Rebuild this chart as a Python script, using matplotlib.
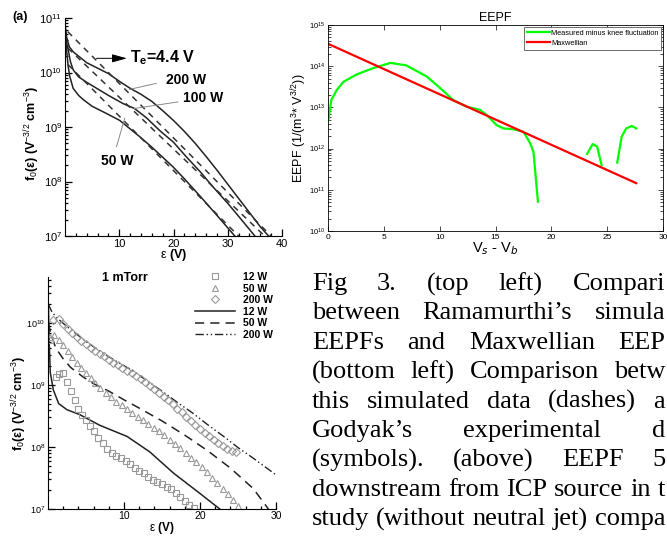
import matplotlib
matplotlib.use("Agg")
import matplotlib.pyplot as plt
import numpy as np
from matplotlib.lines import Line2D

plt.rcParams["font.family"] = ["Liberation Sans", "DejaVu Sans"]
plt.rcParams["mathtext.fontset"] = "custom"
plt.rcParams["mathtext.rm"] = "Liberation Sans"
plt.rcParams["mathtext.bf"] = "Liberation Sans:bold"

#################################################
#   Data (y values stored as log10 exponents)   #
#################################################

# (a) Ramamurthi simulated EEPFs, solid
a_x_200 = [0.0, 0.3, 0.8, 1.5, 2.5, 4.0, 6.0, 8.0, 10.0, 12.0, 14.0, 16.0, 18.0,
           20.0, 22.0, 24.0, 26.0, 28.0, 30.0, 32.0, 34.0, 36.0, 37.7]
a_y_200 = [10.9, 10.65, 10.47, 10.38, 10.3, 10.18, 10.08, 9.98, 9.84, 9.71, 9.6,
           9.47, 9.3, 9.12, 8.92, 8.7, 8.46, 8.21, 7.95, 7.69, 7.43, 7.17, 6.98]
a_x_100 = [0.0, 0.3, 0.6, 1.0, 1.5, 2.5, 4.0, 6.0, 8.0, 10.7, 12.8, 15.0, 17.4,
           20.0, 22.3, 25.0, 27.2, 30.0, 32.1, 35.0]
a_y_100 = [10.85, 10.55, 10.41, 10.2, 10.05, 9.92, 9.82, 9.70, 9.58, 9.43, 9.34,
           9.17, 8.94, 8.72, 8.46, 8.17, 7.91, 7.60, 7.35, 7.0]
a_x_50 = [0.0, 0.3, 0.6, 0.9, 1.5, 2.5, 3.4, 5.0, 7.6, 10.1, 13.8, 16.0, 19.9,
          22.0, 25.0, 28.0, 31.3]
a_y_50 = [10.8, 10.4, 10.1, 9.92, 9.71, 9.58, 9.50, 9.38, 9.25, 9.12, 8.82, 8.63,
          8.27, 8.05, 7.72, 7.38, 7.0]
# (a) Maxwellian fits, dashed (end points)
a_max_x = [[0.5, 38.3], [0.5, 36.8], [0.5, 32.0]]
a_max_y = [[10.75, 6.97], [10.45, 7.0], [10.15, 7.0]]

# top right: measured EEPF (3 pieces) and Maxwellian
m_x1 = [0.03, 0.3, 0.78, 1.37, 2.57, 4.0, 5.6, 7.0, 8.84, 10.0, 11.2, 12.4, 13.6,
        14.2, 15.1, 15.7, 16.6, 17.5, 18.1, 18.4, 18.8]
m_y1 = [12.69, 13.18, 13.42, 13.62, 13.80, 13.95, 14.08, 14.02, 13.75, 13.48,
        13.18, 13.02, 12.94, 12.82, 12.57, 12.49, 12.47, 12.41, 12.13, 11.92, 10.71]
m_x2 = [23.2, 23.7, 24.1, 24.5]
m_y2 = [11.87, 12.11, 12.05, 11.60]
m_x3 = [25.9, 26.3, 26.7, 27.2, 27.6]
m_y3 = [11.66, 12.29, 12.49, 12.55, 12.49]
mx_x = [0.0, 27.6]
mx_y = [3.5e14, 1.45e11]

# bottom left: 1 mTorr, simulation lines
b_x_12 = [0.05, 0.15, 0.3, 0.7, 1.4, 2.5, 4.2, 6.8, 10.4, 13.4, 16.5, 20.0, 22.6]
b_y_12 = [10.3, 9.7, 9.2, 8.92, 8.70, 8.60, 8.52, 8.35, 8.17, 7.92, 7.58, 7.25, 7.0]
b_x_50 = [0.05, 0.3, 1.0, 2.0, 3.0, 4.6, 6.0, 8.0, 10.0, 12.1, 15.0, 18.0, 21.0,
          24.0, 27.0, 29.0]
b_y_50 = [10.0, 9.86, 9.6, 9.42, 9.28, 9.13, 9.02, 8.9, 8.76, 8.62, 8.42, 8.19,
          7.94, 7.66, 7.33, 7.0]
b_x_200 = [0.05, 0.5, 1.0, 2.5, 5.0, 7.0, 9.0, 11.0, 13.0, 15.0, 17.0, 19.0, 21.0,
           23.0, 25.0, 27.0, 30.0]
b_y_200 = [10.3, 10.18, 10.1, 9.94, 9.70, 9.53, 9.38, 9.24, 9.07, 8.90, 8.72,
           8.55, 8.36, 8.18, 7.99, 7.82, 7.55]
# bottom left: Godyak experiment, symbols
sq_x = [0.3, 1.0, 1.5, 2.0, 2.5, 3.0, 3.5, 4.0, 4.5, 5.0, 5.5, 6.0, 6.6, 7.2, 7.8,
        8.4, 9.0, 9.6, 10.2, 10.8, 11.4, 12.0, 12.6, 13.2, 13.8, 14.4, 15.0,
        15.6, 16.2, 16.8, 17.4, 18.0, 18.6, 19.2]
sq_y = [9.72, 9.12, 9.18, 9.19, 9.05, 8.90, 8.75, 8.62, 8.52, 8.43, 8.34, 8.25,
        8.15, 8.06, 7.97, 7.91, 7.86, 7.82, 7.77, 7.72, 7.66, 7.62, 7.58, 7.52,
        7.47, 7.44, 7.40, 7.35, 7.32, 7.26, 7.20, 7.13, 7.07, 7.01]
tr_x = [0.3, 0.8, 1.4, 2.0, 2.6, 3.2, 3.8, 4.4, 5.0, 5.6, 6.2, 6.9, 7.6, 8.3, 9.0,
        9.7, 10.4, 11.1, 11.8, 12.5, 13.2, 13.9, 14.6, 15.3, 16.0, 16.7, 17.4,
        18.1, 18.8, 19.5, 20.2, 20.9, 21.6, 22.3, 23.0, 23.7, 24.4, 25.0]
tr_y = [9.78, 9.80, 9.73, 9.64, 9.55, 9.45, 9.36, 9.27, 9.19, 9.11, 9.03, 8.95,
        8.87, 8.80, 8.73, 8.67, 8.61, 8.55, 8.49, 8.43, 8.37, 8.31, 8.25, 8.19,
        8.12, 8.05, 7.98, 7.91, 7.83, 7.75, 7.67, 7.59, 7.50, 7.42, 7.33, 7.24,
        7.14, 7.05]
di_x = [0.7, 1.4, 2.0, 2.6, 3.2, 3.8, 4.4, 5.0, 5.6, 6.2, 6.8, 7.4, 8.0, 8.6, 9.2,
        9.8, 10.4, 11.0, 11.6, 12.2, 12.8, 13.4, 14.0, 14.6, 15.2, 15.8, 16.4,
        17.0, 17.6, 18.2, 18.8, 19.4, 20.0, 20.6, 21.2, 21.8, 22.4, 23.0, 23.6,
        24.2, 24.8]
di_y = [10.05, 10.06, 9.98, 9.90, 9.83, 9.77, 9.71, 9.66, 9.60, 9.55, 9.50, 9.46,
        9.41, 9.36, 9.32, 9.28, 9.23, 9.19, 9.14, 9.09, 9.04, 8.99, 8.93, 8.87,
        8.81, 8.75, 8.69, 8.62, 8.56, 8.49, 8.42, 8.35, 8.29, 8.23, 8.17, 8.11,
        8.06, 8.01, 7.97, 7.94, 7.92]

# caption lines as they show (cut at the right edge of the page crop)
caption = [
    ["Fig", "3.", "(top", "left)", "Compari"],
    ["between", "Ramamurthi\u2019s", "simula"],
    ["EEPFs", "and", "Maxwellian", "EEP"],
    ["(bottom", "left)", "Comparison", "betw"],
    ["this", "simulated", "data", "(dashes)", "a"],
    ["Godyak\u2019s", "experimental", "d"],
    ["(symbols).", "(above)", "EEPF", "5"],
    ["downstream", "from", "ICP", "source", "in", "t"],
    ["study", "(without", "neutral", "jet)", "compa"],
]

W, H = 667, 536


def px_axes(l, r, t, b):
    return [l / W, 1 - b / H, (r - l) / W, (b - t) / H]


def p(v):
    return 10 ** np.asarray(v, dtype=float)


fig = plt.figure(figsize=(W / 100, H / 100), dpi=100)

#################################################
#            (a) top left                       #
#################################################
ax = fig.add_axes(px_axes(65, 282, 18, 236))
ax.set_yscale("log")
ax.plot(a_x_200, p(a_y_200), color="#222222", lw=1.1)
ax.plot(a_x_100, p(a_y_100), color="#222222", lw=1.1)
ax.plot(a_x_50, p(a_y_50), color="#222222", lw=1.1)
for xs, ys in zip(a_max_x, a_max_y):
    ax.plot(xs, p(ys), color="#333333", lw=1.1, ls=(0, (4, 3.5)))
ax.set_xlim(0, 40)
ax.set_ylim(1e7, 1e11)
ax.set_xticks([10, 20, 30, 40])
ax.set_xticks(np.arange(2, 40, 2), minor=True)
for s in ["top", "right"]:
    ax.spines[s].set_visible(False)
ax.tick_params(which="both", direction="in", labelsize=8, width=0.9)
ax.tick_params(which="major", length=5, pad=2)
ax.tick_params(which="minor", length=2.5)
ax.set_xlabel("\u03b5 $\\mathbf{(V)}$", fontsize=9, labelpad=-1)
ax.set_ylabel("f$_0$(\u03b5) (V$^{-3/2}$ cm$^{-3}$)", fontsize=9, fontweight="bold")
ax.yaxis.set_label_coords(-0.105, 0.47)
# leader lines and labels
ax.plot([11.9, 16.8], p([9.69, 9.80]), color="#888888", lw=0.7)
ax.plot([12.8, 20.8], p([9.34, 9.46]), color="#888888", lw=0.7)
ax.plot([11.0, 9.5], p([9.16, 8.64]), color="#888888", lw=0.7)
ax.text(18.6, p(9.86), "200 W", fontsize=10, fontweight="bold", va="center")
ax.text(21.8, p(9.53), "100 W", fontsize=10, fontweight="bold", va="center")
ax.text(6.6, p(8.38), "50 W", fontsize=10, fontweight="bold", va="center")
ax.annotate("", xy=(11.4, p(10.26)), xytext=(5.8, p(10.26)),
            arrowprops=dict(arrowstyle="-|>,head_length=0.9,head_width=0.25",
                            color="black", lw=0.7, shrinkA=0, shrinkB=0))
ax.text(11.9, p(10.27), "T$_\\mathbf{e}$=4.4 V", fontsize=11.5, fontweight="bold", va="center")
fig.text(12 / W, 1 - 17 / H, "(a)", fontsize=9, fontweight="bold", va="center")

#################################################
#            EEPF top right                     #
#################################################
ax = fig.add_axes(px_axes(328, 663, 25, 231))
ax.set_yscale("log")
ax.plot(m_x1, p(m_y1), color="#00ff00", lw=1.6, label="Measured minus knee fluctuation")
ax.plot(m_x2, p(m_y2), color="#00ff00", lw=1.6)
ax.plot(m_x3, p(m_y3), color="#00ff00", lw=1.6)
ax.plot(mx_x, mx_y, color="#ff0000", lw=1.6, label="Maxwellian")
ax.set_xlim(0, 30)
ax.set_ylim(1e10, 1e15)
ax.set_xticks(np.arange(0, 31, 5))
ax.tick_params(which="both", direction="in", top=True, right=True, width=0.5)
ax.tick_params(which="major", length=3.5, labelsize=5.5, pad=2)
ax.tick_params(which="minor", length=2)
ax.tick_params(axis="x", labelsize=6)
for s in ax.spines.values():
    s.set_linewidth(0.6)
ax.set_title("EEPF", fontsize=9, pad=3)
ax.set_xlabel("V$_s$ - V$_b$", fontsize=10.5, labelpad=0)
ax.set_ylabel("EEPF (1/(m$^3$* V$^{3/2}$))", fontsize=9)
ax.yaxis.set_label_coords(-19 / 335, 0.5)
leg = ax.legend(loc="upper right", fontsize=5.3, fancybox=False, framealpha=1,
                edgecolor="#555555", borderpad=0.35, handlelength=3.2,
                handletextpad=0.1, labelspacing=0.45, borderaxespad=0.25)
leg.get_frame().set_linewidth(0.6)

#################################################
#            1 mTorr bottom left                #
#################################################
ax = fig.add_axes(px_axes(48, 276, 277, 509))
ax.set_yscale("log")
ax.plot(b_x_12, p(b_y_12), color="#222222", lw=1.1)
ax.plot(b_x_50, p(b_y_50), color="#222222", lw=1.1, ls=(0, (6, 4)))
ax.plot(b_x_200, p(b_y_200), color="#222222", lw=1.0, ls=(0, (6, 2, 1, 2, 1, 2)))
mk = dict(ls="none", mfc="none", mec="#999999", mew=0.8, ms=4.5)
ax.plot(sq_x, p(sq_y), marker="s", **mk)
ax.plot(tr_x, p(tr_y), marker="^", **mk)
ax.plot(di_x, p(di_y), marker="D", **dict(mk, ms=4))
ax.set_xlim(0, 30)
ax.set_ylim(1e7, 10 ** 10.74)
ax.set_xticks([10, 20, 30])
ax.set_xticks(np.arange(2, 30, 2), minor=True)
for s in ["top", "right"]:
    ax.spines[s].set_visible(False)
ax.tick_params(which="both", direction="in", labelsize=6.5, width=0.9)
ax.tick_params(which="major", length=5, pad=2)
ax.tick_params(which="minor", length=2.5)
ax.tick_params(axis="x", labelsize=7.5, pad=1.5)
ax.set_xlabel("\u03b5 $\\mathbf{(V)}$", fontsize=8.5, labelpad=-1)
ax.set_ylabel("f$_0$(\u03b5) (V$^{-3/2}$ cm$^{-3}$)", fontsize=9, fontweight="bold")
ax.yaxis.set_label_coords(-0.085, 0.457)
fig.text(125 / W, 1 - 278 / H, "1 mTorr", fontsize=9, fontweight="bold", ha="center", va="center")
handles = [
    Line2D([], [], marker="s", **mk),
    Line2D([], [], marker="^", **mk),
    Line2D([], [], marker="D", **dict(mk, ms=4)),
    Line2D([], [], color="#222222", lw=1.1),
    Line2D([], [], color="#222222", lw=1.1, ls=(0, (6, 4))),
    Line2D([], [], color="#222222", lw=1.0, ls=(0, (6, 2, 1, 2, 1, 2))),
]
leg = ax.legend(handles, ["12 W", "50 W", "200 W", "12 W", "50 W", "200 W"],
                loc="upper left", bbox_to_anchor=(195 / W, 1 - 272 / H),
                bbox_transform=fig.transFigure, frameon=False, fontsize=7.5,
                handlelength=3.8, handletextpad=0.8, labelspacing=0.15,
                borderpad=0, borderaxespad=0)
for t in leg.get_texts():
    t.set_fontweight("bold")

#################################################
#            caption (justified)                #
#################################################
renderer = fig.canvas.get_renderer()
x0, x1 = 312, 665
for i, words in enumerate(caption):
    y = 1 - (284 + 29.4 * i) / H
    texts = [fig.text(0, y, w, fontsize=19, family="Liberation Serif", va="center")
             for w in words]
    widths = [t.get_window_extent(renderer).width for t in texts]
    gap = max((x1 - x0 - sum(widths)) / (len(words) - 1), 4)
    x = x0
    for t, wd in zip(texts, widths):
        t.set_x(x / W)
        x += wd + gap

fig.savefig("out.png", dpi=100)
